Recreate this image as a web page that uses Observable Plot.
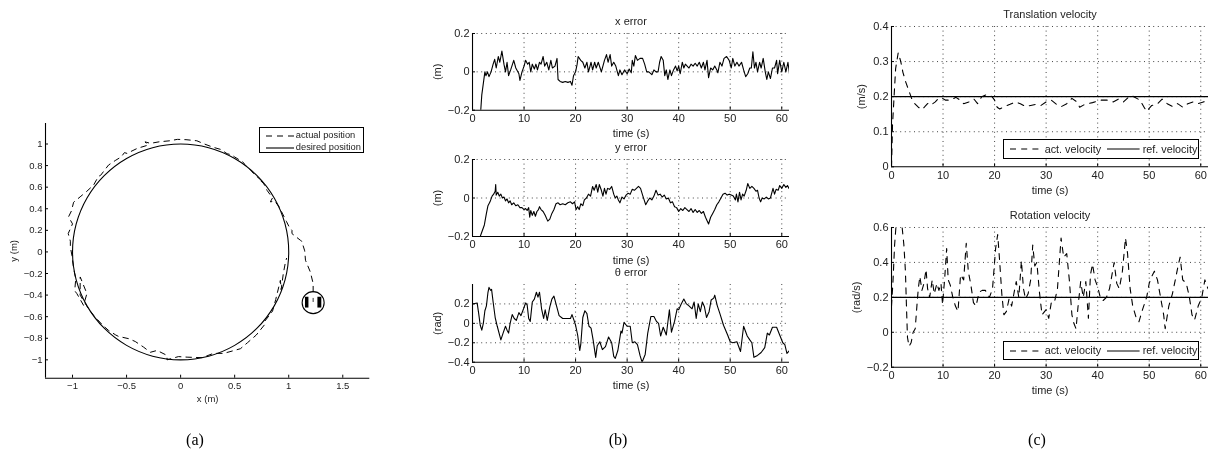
<!doctype html>
<html><head><meta charset="utf-8">
<script src="https://cdn.jsdelivr.net/npm/d3@7"></script>
<script src="https://cdn.jsdelivr.net/npm/@observablehq/plot@0.6"></script>
<style>
html,body{margin:0;padding:0;background:#fff;}
#page{position:relative;width:1211px;height:453px;overflow:hidden;font-family:"Liberation Sans",Arial,sans-serif;filter:blur(0.35px);}
#page svg.panel{position:absolute;overflow:visible;background:none;}
.legend{position:absolute;box-sizing:border-box;border:1.2px solid #000;background:#fff;color:#222;}
.legend span{position:absolute;white-space:nowrap;line-height:1;}
.legend svg{position:absolute;overflow:visible;}
.cap{position:absolute;font-family:"Liberation Serif",serif;font-size:16px;color:#000;transform:translate(-50%,-50%);line-height:1;}
</style></head><body><div id="page"></div>
<script>
const timeTicks=[0,10,20,30,40,50,60];
const circleXTicks=[-1,-0.5,0,0.5,1,1.5];
const circleYTicks=[-1,-0.8,-0.6,-0.4,-0.2,0,0.2,0.4,0.6,0.8,1];

const desiredPosition=[[1,0],[0.966,0.259],[0.866,0.5],[0.707,0.707],[0.5,0.866],[0.259,0.966],[0,1],[-0.259,0.966],[-0.5,0.866],[-0.707,0.707],[-0.866,0.5],[-0.966,0.259],[-1,0],[-0.966,-0.259],[-0.866,-0.5],[-0.707,-0.707],[-0.5,-0.866],[-0.259,-0.966],[0,-1],[0.259,-0.966],[0.5,-0.866],[0.707,-0.707],[0.866,-0.5],[0.966,-0.259]];
const actualPosition=[[1.226,-0.37],[1.226,-0.293],[1.2,-0.186],[1.155,-0.077],[1.148,0.01],[1.12,0.1],[1.108,0.108],[1.03,0.17],[1.03,0.2],[1,0.24],[0.98,0.28],[0.94,0.36],[0.91,0.42],[0.87,0.47],[0.83,0.464],[0.85,0.5],[0.8,0.57],[0.77,0.63],[0.73,0.67],[0.75,0.66],[0.68,0.72],[0.62,0.79],[0.6,0.8],[0.58,0.83],[0.5,0.88],[0.47,0.9],[0.43,0.91],[0.37,0.95],[0.3,0.97],[0.22,1],[0.15,1.03],[0.05,1.04],[-0.03,1.043],[-0.1,1.03],[-0.2,1.02],[-0.28,1.006],[-0.33,1.02],[-0.3,0.99],[-0.4,0.96],[-0.496,0.913],[-0.52,0.92],[-0.55,0.88],[-0.6,0.85],[-0.667,0.805],[-0.74,0.71],[-0.76,0.7],[-0.805,0.62],[-0.87,0.56],[-0.93,0.51],[-0.99,0.46],[-1.01,0.38],[-1.037,0.325],[-1,0.26],[-1.04,0.17],[-1.02,0.1],[-1.02,0.046],[-1.006,-0.03],[-1,-0.08],[-0.99,-0.15],[-0.97,-0.25],[-0.98,-0.36],[-0.96,-0.386],[-0.898,-0.495],[-0.867,-0.386],[-0.929,-0.232],[-0.93,-0.4],[-0.85,-0.53],[-0.805,-0.588],[-0.72,-0.68],[-0.667,-0.727],[-0.6,-0.77],[-0.574,-0.783],[-0.48,-0.804],[-0.42,-0.83],[-0.343,-0.882],[-0.28,-0.93],[-0.218,-0.913],[-0.126,-0.959],[-0.126,-1],[-0.02,-0.97],[0.06,-0.975],[0.2,-0.98],[0.303,-0.94],[0.4,-0.94],[0.553,-0.897],[0.62,-0.84],[0.7,-0.77],[0.784,-0.665],[0.78,-0.64],[0.85,-0.55],[0.88,-0.44],[0.923,-0.263],[0.93,-0.35],[0.95,-0.2],[0.97,-0.093],[0.98,-0.06]];
const robotCentre=[[1.226,-0.47]];
const robotWheels=[{x1:1.155,x2:1.187,y1:-0.52,y2:-0.42},{x1:1.27,x2:1.306,y1:-0.52,y2:-0.42}];
const robotHeading=[[1.226,-0.46],[1.226,-0.43]];

const xError=[[1.6,-0.2],[1.8,-0.12],[2.1,-0.06],[2.4,0],[2.6,-0.02],[2.9,0],[3.2,-0.025],[3.6,0],[4,0.04],[4.3,0.065],[4.6,0.02],[5,0.08],[5.3,0.05],[5.7,0.108],[6.1,0.04],[6.4,0],[6.7,0.05],[7,-0.02],[7.4,0.01],[8,0.06],[8.4,0.02],[9,-0.01],[9.2,-0.045],[9.6,0],[10,0.03],[10.3,0.06],[10.7,0.04],[11,0.05],[11.3,0],[11.6,0.04],[12,0.015],[12.3,0.04],[12.6,0.01],[13,0.05],[13.3,0.04],[13.7,0.08],[14,0.03],[14.4,0.05],[14.8,0.01],[15.2,0.06],[15.5,0.02],[16,0.03],[16.4,0.07],[16.6,-0.04],[17,-0.05],[17.5,-0.055],[18,-0.05],[18.5,-0.055],[19,-0.05],[19.3,-0.07],[19.6,-0.02],[20,0],[20.3,0.04],[20.5,0.08],[21,0.06],[21.4,0.05],[21.8,0.02],[22.2,0.05],[22.5,0],[23,0.05],[23.3,0.01],[23.7,0.05],[24,0.02],[24.4,0.05],[25,0],[25.6,0.06],[26,0.09],[26.3,0.05],[26.7,0.09],[27,0.03],[27.4,0.05],[27.8,0.03],[28.3,-0.02],[28.6,0.01],[29,-0.015],[29.5,0.01],[30,-0.01],[30.4,0.015],[30.8,-0.005],[31,0.06],[31.3,0.03],[31.6,0.085],[32,0.06],[32.5,0.07],[33,0.07],[33.4,0.04],[33.8,0],[34.2,0],[34.8,-0.015],[35.2,0.01],[35.6,0],[36,0],[36.3,0.05],[36.6,0.08],[37,0.06],[37.3,-0.02],[37.6,0.01],[37.9,-0.04],[38.3,0.01],[38.6,-0.02],[39,0.01],[39.4,0.03],[39.7,0.005],[40,0.03],[40.3,-0.01],[40.7,0.05],[41,0.02],[41.3,0.04],[42,0.02],[42.4,0.04],[42.8,0.03],[43.2,0.045],[43.6,0.03],[44,0.05],[44.4,0.02],[44.8,0.05],[45.1,0.01],[45.5,0.06],[45.8,-0.03],[46.2,0.02],[46.6,0.01],[47,0.03],[47.4,0.01],[47.6,-0.005],[48,0.05],[48.4,0.03],[48.8,0.07],[49.3,0.08],[49.8,0.06],[50.2,0.02],[50.5,0.07],[50.9,0.03],[51.3,0.05],[51.7,0.03],[52.2,0.05],[52.6,0.01],[53,-0.025],[53.4,-0.01],[53.8,0.02],[54.1,0.02],[54.4,0.105],[54.7,0.02],[55,0.05],[55.3,0],[55.7,0.05],[56,0.02],[56.4,0.07],[56.8,0],[57.1,-0.04],[57.4,0],[57.8,-0.035],[58.2,0.02],[58.6,0.02],[59,0.06],[59.2,-0.01],[59.6,0.06],[60,0],[60.4,0.05],[60.8,0],[61.2,0.05],[61.5,-0.01]];
const yError=[[0,-0.2],[1.5,-0.2],[1.9,-0.17],[2.3,-0.14],[2.7,-0.08],[3,-0.04],[3.4,-0.02],[3.8,0.01],[4.1,0.02],[4.4,0.035],[4.5,0.07],[4.6,0.015],[4.9,0.03],[5.2,0.01],[5.5,0.02],[5.8,0],[6.1,0.005],[6.4,-0.015],[6.7,-0.005],[7,-0.025],[7.3,-0.015],[7.6,-0.035],[8,-0.025],[8.4,-0.04],[8.8,-0.035],[9.2,-0.05],[9.6,-0.05],[10,-0.06],[10.3,-0.055],[10.6,-0.065],[10.9,-0.05],[11.1,-0.1],[11.3,-0.065],[11.6,-0.09],[11.9,-0.07],[12.2,-0.095],[12.5,-0.07],[12.8,-0.06],[13,-0.045],[13.3,-0.06],[13.7,-0.07],[14.1,-0.09],[14.6,-0.12],[15,-0.11],[15.4,-0.08],[15.8,-0.06],[16.2,-0.03],[16.6,-0.025],[17,-0.035],[17.5,-0.03],[18,-0.035],[18.5,-0.025],[19,-0.02],[19.4,-0.03],[19.8,-0.02],[20.1,-0.06],[20.4,-0.045],[20.7,-0.06],[21,-0.03],[21.4,-0.04],[21.7,-0.01],[22.1,0],[22.5,0.02],[22.9,0.01],[23.3,0.06],[23.6,0.04],[24,0.07],[24.3,0.03],[24.6,0.07],[25,0.04],[25.3,0.01],[25.6,0.05],[25.9,0.02],[26.2,0.05],[26.6,0.045],[27,0.06],[27.4,0.02],[27.7,0],[28,0.01],[28.3,-0.01],[28.6,-0.025],[29,0.005],[29.4,-0.005],[29.8,0.015],[30.2,0.025],[30.6,0.02],[31,0.045],[31.4,0.04],[31.8,0.05],[32.2,0.06],[32.6,0.05],[33,0.015],[33.3,-0.01],[33.6,-0.035],[34,-0.015],[34.4,0],[34.8,-0.01],[35.2,0.01],[35.6,0.04],[36,0.015],[36.4,0.02],[36.8,0.005],[37.2,0.015],[37.6,-0.005],[38,0],[38.4,-0.025],[38.8,-0.02],[39.2,-0.045],[39.6,-0.05],[40,-0.07],[40.4,-0.055],[40.8,-0.065],[41.2,-0.05],[41.6,-0.06],[42,-0.07],[42.4,-0.055],[42.8,-0.075],[43.2,-0.06],[43.6,-0.075],[44,-0.065],[44.4,-0.08],[44.8,-0.07],[45.2,-0.1],[45.8,-0.135],[46.2,-0.1],[46.6,-0.08],[47,-0.06],[47.4,-0.035],[47.8,-0.02],[48.2,0],[48.6,0.02],[49,0.025],[49.4,0.015],[49.8,0.02],[50.2,0.015],[50.6,0.01],[51,-0.01],[51.2,0.02],[51.5,-0.02],[51.8,0.03],[52.1,-0.01],[52.4,0.02],[52.7,0.01],[53.1,0.04],[53.4,0.075],[53.8,0.05],[54.2,0.06],[54.6,0.05],[55,0.035],[55.3,0.04],[55.6,0],[55.9,-0.02],[56.2,0],[56.6,-0.005],[57,0.005],[57.4,-0.005],[57.8,0],[58,0.02],[58.3,0.05],[58.6,0.02],[58.9,0.045],[59.3,0.04],[59.6,0.065],[60,0.05],[60.4,0.07],[60.8,0.055],[61.1,0.065],[61.4,0.05]];
const thetaError=[[0,0.2],[0.9,0.21],[1.2,0.1],[1.5,-0.02],[1.8,-0.07],[2.1,0],[2.4,0.13],[2.7,0.18],[3,0.32],[3.2,0.37],[3.5,0.34],[3.7,0.35],[4,0.22],[4.4,0.06],[4.8,-0.03],[5.5,-0.17],[6,-0.09],[6.4,-0.03],[6.7,-0.07],[7,-0.1],[7.3,0],[7.7,0.09],[8.1,0.05],[8.5,0.03],[9,0.11],[9.4,0.08],[9.9,0.15],[10.3,0.21],[10.6,0.19],[10.9,0.05],[11.2,0.02],[11.6,0.22],[12,0.25],[12.4,0.32],[12.7,0.27],[13,0.32],[13.4,0.15],[13.8,0.05],[14.1,0.14],[14.5,0.03],[15,0.17],[15.4,0.25],[15.8,0.28],[16.2,0.2],[16.8,0.08],[17.5,0.05],[18.5,0.05],[19,0.05],[19.3,0.09],[19.7,0.03],[20,-0.02],[20.4,-0.12],[20.8,-0.28],[21,-0.22],[21.4,0.06],[21.8,0.13],[22.2,0.1],[22.6,-0.03],[23,-0.05],[23.4,-0.17],[23.9,-0.35],[24.2,-0.23],[24.7,-0.19],[25.2,-0.27],[25.8,-0.24],[26.4,-0.14],[27,-0.2],[27.4,-0.34],[27.7,-0.36],[28.2,-0.28],[28.8,-0.08],[29,-0.1],[29.4,0.01],[30,-0.03],[30.6,-0.03],[31,-0.2],[31.5,-0.19],[32,-0.22],[32.5,-0.33],[32.9,-0.4],[33.5,-0.32],[34,-0.1],[34.6,0.07],[35.2,0.07],[35.7,0.02],[36.1,0],[36.5,-0.13],[37,-0.04],[37.6,-0.12],[38.2,0.14],[38.6,-0.09],[39.2,0.02],[39.7,0.15],[40,0.14],[40.5,0.2],[41,0.25],[41.5,0.2],[42,0.18],[42.6,0.15],[43,0.22],[43.4,0.05],[43.8,0.2],[44.2,0.12],[44.6,0.22],[45,0.17],[45.4,0.06],[45.9,0.12],[46.3,0.24],[46.8,0.26],[47,0.29],[47.5,0.18],[48,0.1],[48.7,-0.02],[49.5,-0.12],[50,-0.19],[50.5,-0.2],[51.3,-0.19],[52,-0.29],[52.6,-0.03],[53.3,-0.13],[53.8,-0.17],[54.2,-0.2],[54.6,-0.35],[55.3,-0.33],[56,-0.3],[56.7,-0.25],[57.2,-0.1],[57.6,-0.12],[58.2,-0.04],[59,-0.04],[59.6,-0.12],[60.2,-0.2],[60.6,-0.22],[61,-0.31],[61.5,-0.28]];

const translationVelocity=[[0,0],[0.2,0.12],[0.5,0.2],[0.8,0.28],[1.3,0.325],[1.8,0.3],[2.2,0.27],[2.8,0.24],[3.3,0.22],[3.9,0.195],[4.5,0.18],[5.2,0.17],[5.9,0.163],[6.5,0.172],[7,0.18],[7.5,0.185],[8,0.18],[8.5,0.185],[9,0.193],[9.7,0.197],[10.5,0.19],[11.5,0.19],[12.5,0.198],[13.3,0.19],[14,0.18],[15,0.185],[16,0.193],[16.7,0.18],[17.5,0.2],[18.5,0.206],[19.5,0.2],[20,0.19],[20.5,0.17],[21,0.165],[22,0.172],[23,0.178],[24,0.185],[25,0.18],[26,0.172],[27,0.175],[28,0.178],[29,0.175],[30,0.185],[31,0.19],[32,0.178],[33,0.172],[34,0.18],[35,0.195],[36,0.185],[36.5,0.17],[37.5,0.178],[39,0.183],[40.5,0.19],[41,0.19],[42,0.19],[43,0.185],[44,0.193],[45,0.185],[46.3,0.203],[47,0.2],[48.2,0.19],[49,0.17],[49.5,0.158],[50.5,0.175],[51.5,0.178],[52.5,0.193],[53.5,0.18],[54.5,0.172],[55.5,0.18],[56.5,0.17],[57.5,0.18],[58.5,0.185],[59.5,0.18],[60.5,0.185],[61.4,0.187]];
const rotationVelocity=[[0,0.15],[0.3,0.3],[0.6,0.5],[0.9,0.62],[1.4,0.68],[2,0.62],[2.4,0.5],[2.7,0.35],[2.9,0.15],[3.1,-0.03],[3.4,-0.08],[3.8,-0.06],[4.2,0],[4.6,0.02],[5,0.18],[5.2,0.25],[5.5,0.32],[5.9,0.24],[6.3,0.28],[6.7,0.36],[7,0.25],[7.4,0.2],[7.9,0.3],[8.3,0.22],[8.8,0.28],[9.2,0.24],[9.6,0.28],[9.9,0.16],[10.3,0.3],[10.7,0.48],[11,0.3],[11.4,0.27],[11.9,0.2],[12.4,0.15],[12.9,0.12],[13.4,0.33],[14,0.3],[14.5,0.51],[14.9,0.35],[15.4,0.27],[15.9,0.17],[16.4,0.15],[17,0.23],[17.6,0.24],[18.2,0.24],[19,0.2],[19.6,0.25],[20.2,0.48],[20.6,0.56],[21,0.4],[21.4,0.22],[21.8,0.1],[22.3,0.12],[22.8,0.19],[23.3,0.15],[23.8,0.23],[24.2,0.29],[24.7,0.2],[25.2,0.41],[25.6,0.25],[26,0.19],[26.5,0.22],[27,0.3],[27.4,0.5],[27.8,0.38],[28.2,0.4],[28.7,0.23],[29.2,0.1],[30,0.13],[30.5,0.08],[31,0.17],[31.6,0.17],[32.2,0.25],[32.9,0.54],[33.4,0.43],[34,0.45],[34.5,0.3],[35,0.1],[35.4,0.05],[35.8,0.02],[36.2,0.15],[36.7,0.29],[37.2,0.2],[37.7,0.29],[38.2,0.08],[38.6,0.33],[39,0.39],[39.5,0.3],[40,0.26],[40.5,0.2],[41,0.18],[41.7,0.2],[42.3,0.25],[43.2,0.4],[43.7,0.28],[44.2,0.25],[44.8,0.35],[45.4,0.54],[45.8,0.45],[46.3,0.25],[46.8,0.15],[47.5,0.08],[48,0.06],[48.7,0.13],[49.5,0.2],[50,0.28],[50.5,0.32],[51,0.35],[51.6,0.3],[52.2,0.2],[52.8,0.1],[53.1,0.02],[53.8,0.15],[54.5,0.22],[55.2,0.32],[55.6,0.38],[56,0.43],[56.5,0.3],[57.2,0.28],[57.8,0.2],[58.3,0.1],[58.8,0.07],[59.5,0.15],[60.2,0.2],[60.8,0.3],[61.4,0.25]];
const translationRef=[0.2];
const rotationRef=[0.2];

const page=document.getElementById("page");
const minus=d=>String(d).replace("-","\u2212");

function panel({box,xd,yd,xt,yt,grid=true,xl,yl,title,marks,fs=11,xlo=27,ylo=39}){
  const [L,T,R,B]=box, ML=70,MR=8,MT=22,MB=44;
  const gridStyle={stroke:"#444",strokeOpacity:1,strokeWidth:1,strokeDasharray:"1,3.6"};
  const svg=Plot.plot({
    width:R-L+ML+MR,height:B-T+MT+MB,marginLeft:ML,marginRight:MR,marginTop:MT,marginBottom:MB,
    style:{fontFamily:"'Liberation Sans',Arial,sans-serif",fontSize:fs+"px",background:"transparent",color:"#222"},
    x:{domain:xd},y:{domain:yd},
    marks:[
      grid?Plot.gridX(xt.filter(d=>d!==xd[0]),gridStyle):null,
      grid?Plot.gridY(yt.filter(d=>d!==yd[0]),gridStyle):null,
      ...marks,
      Plot.ruleX([xd[0]],{stroke:"#000",strokeWidth:1.1}),
      Plot.ruleY([yd[0]],{stroke:"#000",strokeWidth:1.1}),
      Plot.axisX(xt,{tickSize:-3,tickPadding:7,tickFormat:minus,label:xl,labelAnchor:"center",labelArrow:"none",labelOffset:xlo,stroke:"#000"}),
      Plot.axisY(yt,{tickSize:-3,tickPadding:6,tickFormat:minus,label:yl,labelAnchor:"center",labelArrow:"none",labelOffset:ylo,stroke:"#000"}),
      title?Plot.text([title],{frameAnchor:"top",dy:-12,fontSize:fs,lineAnchor:"middle",fill:"#222"}):null
    ]
  });
  svg.classList.add("panel");
  svg.style.left=(L-ML)+"px";svg.style.top=(T-MT)+"px";
  page.appendChild(svg);
}

const line=(data,opt={})=>Plot.line(data,{x:"0",y:"1",stroke:"#000",strokeWidth:1.1,clip:true,...opt});
const dashed=(data,opt={})=>line(data,{strokeDasharray:"5.5,5",...opt});
const refRule=v=>Plot.ruleY(v,{stroke:"#000",strokeWidth:1.1});

// (a)
panel({box:[45,123.3,369.3,378],xd:[-1.25,1.75],yd:[-1.17,1.19],xt:circleXTicks,yt:circleYTicks,grid:false,xl:"x (m)",yl:"y (m)",fs:9.5,xlo:24,ylo:35,
  marks:[
    line(desiredPosition,{curve:"catmull-rom-closed"}),
    dashed(actualPosition,{strokeWidth:1}),
    Plot.dot(robotCentre,{x:"0",y:"1",r:11,stroke:"#000",strokeWidth:1.1,fill:"none"}),
    Plot.rect(robotWheels,{x1:"x1",x2:"x2",y1:"y1",y2:"y2",fill:"#000"}),
    line(robotHeading,{strokeWidth:0.8})
  ]});
// (b)
const bx=[472.3,789.3], td=[0,61.5];
panel({box:[bx[0],33.3,bx[1],110],xd:td,yd:[-0.2,0.2],xt:timeTicks,yt:[-0.2,0,0.2],xl:"time (s)",yl:"(m)",title:"x error",marks:[line(xError)]});
panel({box:[bx[0],159,bx[1],236],xd:td,yd:[-0.2,0.2],xt:timeTicks,yt:[-0.2,0,0.2],xl:"time (s)",yl:"(m)",title:"y error",marks:[line(yError)]});
panel({box:[bx[0],284,bx[1],361.7],xd:td,yd:[-0.4,0.4],xt:timeTicks,yt:[-0.4,-0.2,0,0.2],xl:"time (s)",yl:"(rad)",title:"\u03b8 error",marks:[line(thetaError)]});
// (c)
const cx=[890.7,1207.7];
panel({box:[cx[0],26,cx[1],166.3],xd:td,yd:[0,0.4],xt:timeTicks,yt:[0,0.1,0.2,0.3,0.4],xl:"time (s)",yl:"(m/s)",title:"Translation velocity",ylo:34,marks:[dashed(translationVelocity,{strokeDasharray:"6,6"}),refRule(translationRef)]});
panel({box:[cx[0],227.3,cx[1],367],xd:td,yd:[-0.2,0.6],xt:timeTicks,yt:[-0.2,0,0.2,0.4,0.6],xl:"time (s)",yl:"(rad/s)",title:"Rotation velocity",ylo:39,marks:[dashed(rotationVelocity,{strokeDasharray:"6,6"}),refRule(rotationRef)]});

function legend(left,top,w,h,fs,items){
  const d=document.createElement("div");d.className="legend";
  Object.assign(d.style,{left:left+"px",top:top+"px",width:w+"px",height:h+"px",fontSize:fs+"px"});
  for(const it of items){
    const s=document.createElementNS("http://www.w3.org/2000/svg","svg");
    s.setAttribute("width",it.len);s.setAttribute("height",2);
    Object.assign(s.style,{left:it.x+"px",top:(it.y-1)+"px"});
    const l=document.createElementNS("http://www.w3.org/2000/svg","line");
    l.setAttribute("x1",0);l.setAttribute("x2",it.len);l.setAttribute("y1",1);l.setAttribute("y2",1);
    l.setAttribute("stroke","#000");l.setAttribute("stroke-width",1.1);
    if(it.dash)l.setAttribute("stroke-dasharray",it.dash);
    s.appendChild(l);d.appendChild(s);
    const t=document.createElement("span");t.textContent=it.text;
    Object.assign(t.style,{left:it.tx+"px",top:(it.y-fs/2)+"px"});
    d.appendChild(t);
  }
  page.appendChild(d);
}
legend(259.3,127.3,105,26,9.3,[
  {text:"actual position",x:5.5,len:28,y:7.5,tx:35.5,dash:"6,5"},
  {text:"desired position",x:5.5,len:28,y:19.5,tx:35.5}
]);
const velItems=[
  {text:"act. velocity",x:6,len:32.4,y:9,tx:41,dash:"6,5.2"},
  {text:"ref. velocity",x:103.5,len:32.6,y:9,tx:139}
];
legend(1002.7,139.3,196.4,19.6,10.8,velItems);
legend(1002.7,340.7,196.4,19.6,10.8,velItems);

for(const [t,x] of [["(a)",195],["(b)",618],["(c)",1037]]){
  const c=document.createElement("div");c.className="cap";c.textContent=t;
  c.style.left=x+"px";c.style.top="440px";page.appendChild(c);
}
</script></body></html>
